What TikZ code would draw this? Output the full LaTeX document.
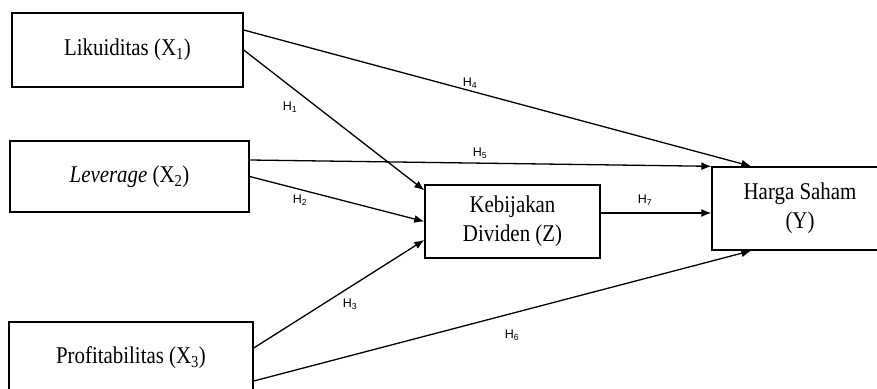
\documentclass[tikz,border=0pt]{standalone}
\usepackage{fontspec}
\setmainfont{Liberation Serif}
\newfontfamily\boxfont[FakeStretch=0.87]{Liberation Serif}
\newfontfamily\hfont{Liberation Sans}
\usetikzlibrary{arrows.meta}

\tikzset{
  box/.style={draw, line width=1.4pt, inner sep=0pt, align=center, font=\boxfont\fontsize{24}{29}\selectfont},
  hyp/.style={line width=1.3pt, -{Latex[length=10pt,width=8pt]}},
  hlab/.style={font=\hfont\fontsize{12.5}{14}\selectfont, inner sep=0pt}
}

\begin{document}
\begin{tikzpicture}[x=1pt,y=-1pt]
\useasboundingbox (0,0) rectangle (877,388);
\clip (0,0) rectangle (877,388);

% left column
\node[box, minimum width=231pt, minimum height=74pt] (x1) at (127.5,50) {Likuiditas (X\textsubscript{1})};
\node[box, minimum width=239pt, minimum height=71pt] (x2) at (129.5,176.5) {\textit{Leverage} (X\textsubscript{2})};
\node[box, minimum width=244pt, minimum height=72pt] (x3) at (131,358) {Profitabilitas (X\textsubscript{3})};

% intervening and dependent
\node[box, minimum width=175pt, minimum height=73pt] (z) at (512.5,221.5) {Kebijakan\\Dividen (Z)};
\node[box, minimum width=176pt, minimum height=83pt] (y) at (800,208.5) {Harga Saham\\(Y)};

% paths
\draw[hyp] (x1.east) -- ([yshift=-6pt]z.north west);
\draw[hyp] (x2.east) -- (z.west);
\draw[hyp] ([yshift=10pt]x3.east) -- ([yshift=-18.5pt]z.west);
\draw[hyp] ([yshift=20pt]x1.east) -- ([xshift=40pt]y.north west);
\draw[hyp] ([yshift=16.5pt]x2.east) -- (y.north west);
\draw[hyp] ([yshift=-23pt]x3.east) -- ([xshift=40pt]y.south west);
\draw[hyp] ([yshift=8.5pt]z.east) -- ([yshift=8.5pt]z.east -| y.west);

% hypothesis labels
\node[hlab] (h1) at (290,107) {H\textsubscript{1}};
\node[hlab] (h2) at (300,200) {H\textsubscript{2}};
\node[hlab] (h3) at (350,304) {H\textsubscript{3}};
\node[hlab] (h4) at (470,83) {H\textsubscript{4}};
\node[hlab] (h5) at (480,153) {H\textsubscript{5}};
\node[hlab] (h6) at (512,335) {H\textsubscript{6}};
\node[hlab] (h7) at (645,200) {H\textsubscript{7}};
\end{tikzpicture}
\end{document}
